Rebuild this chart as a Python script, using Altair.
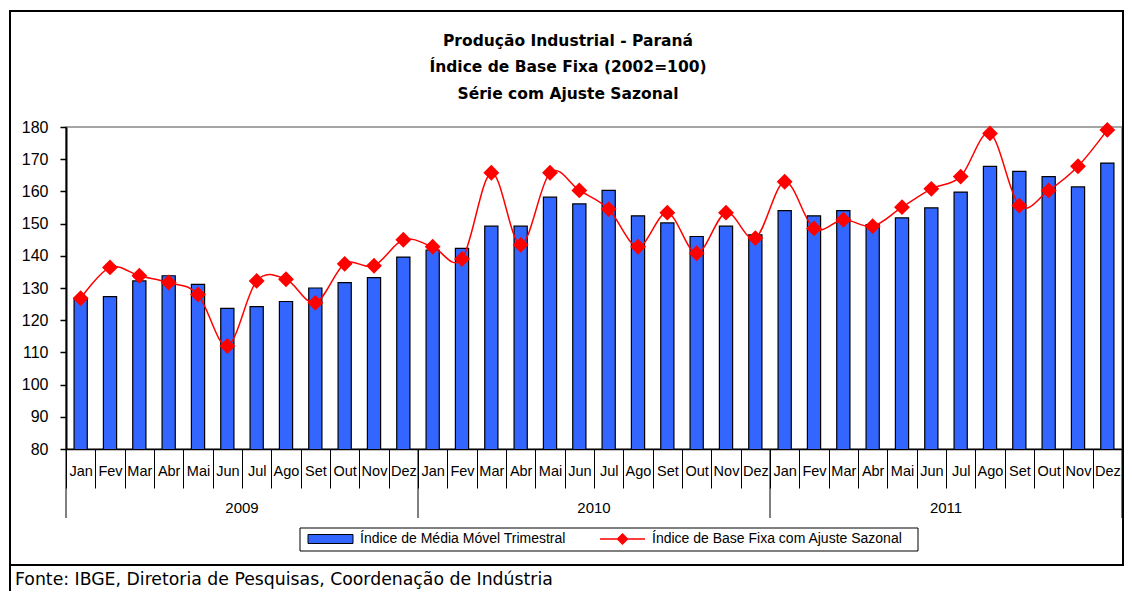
import altair as alt
import pandas as pd

months = ["Jan", "Fev", "Mar", "Abr", "Mai", "Jun", "Jul", "Ago", "Set", "Out", "Nov", "Dez"]
years = ["2009", "2010", "2011"]

# Índice de Média Móvel Trimestral (bars)
media_movel = [
    126.8, 127.3, 132.2, 133.8, 131.1, 123.7, 124.2, 125.8, 130.0, 131.7, 133.2, 139.6,
    141.8, 142.3, 149.2, 149.2, 158.2, 156.1, 160.3, 152.4, 150.2, 146.0, 149.2, 146.5,
    154.0, 152.4, 154.0, 149.7, 151.8, 154.9, 159.8, 167.8, 166.2, 164.6, 161.4, 168.8,
]
# Índice de Base Fixa com Ajuste Sazonal (line)
base_fixa = [
    126.8, 136.4, 133.8, 131.7, 128.0, 112.0, 132.2, 132.7, 125.4, 137.5, 136.9, 145.0,
    142.8, 139.0, 165.8, 143.4, 165.8, 160.3, 154.5, 142.8, 153.4, 140.8, 153.4, 145.5,
    163.0, 148.5, 151.2, 149.2, 155.1, 160.8, 164.6, 178.0, 155.6, 160.3, 167.8, 179.1,
]
y_ticks = [80, 90, 100, 110, 120, 130, 140, 150, 160, 170, 180]

title_lines = [
    "Produção Industrial - Paraná",
    "Índice de Base Fixa (2002=100)",
    "Série com Ajuste Sazonal",
]
fonte = "Fonte: IBGE, Diretoria de Pesquisas, Coordenação de Indústria"
bar_name = "Índice de Média Móvel Trimestral"
line_name = "Índice de Base Fixa com Ajuste Sazonal"

keys = [f"{m} {y}" for y in years for m in months]
df_bar = pd.DataFrame({"key": keys, "serie": bar_name, "valor": media_movel})
df_line = pd.DataFrame({"key": keys, "serie": line_name, "valor": base_fixa})
df_year_start = pd.DataFrame({"key": [f"Jan {y}" for y in years]})
df_year_end = pd.DataFrame({"key": [keys[-1]]})
df_year_lbl = pd.DataFrame({"key": [f"Jul {y}" for y in years], "ano": years})
one = alt.Data(values=[{"a": 1}])

W, H = 1056, 322
FONT = "Liberation Sans"

x_axis = alt.Axis(
    title=None,
    labelExpr="isString(datum.value) ? split(datum.value, ' ')[0] : ''",
    tickBand="extent", tickSize=39, labelPadding=-24, labelAngle=0,
    labelFont=FONT, labelFontSize=14.5, labelColor="black", domainColor="black",
    tickColor="black", labelOverlap=False, domainWidth=1.5, tickWidth=1,
)
x_scale = alt.Scale(domain=keys, paddingInner=0, paddingOuter=0)


def xenc(bp=None):
    kw = dict(sort=keys, scale=x_scale, axis=x_axis)
    if bp is not None:
        kw["bandPosition"] = bp
    return alt.X("key:N", **kw)


y_axis = alt.Axis(
    title=None, values=y_ticks, tickSize=6, labelPadding=12, labelFont=FONT,
    labelFontSize=16, labelColor="black", domainColor="black", tickColor="black",
    domainWidth=2, tickWidth=1.5, grid=False,
)
y_scale = alt.Scale(domain=[80, 180], nice=False, zero=False)

bar_path = "M-1,-0.9H8V0.9H-1Z"
line_path = "M-1,0H8M3.5,-1L4.5,0L3.5,1L2.5,0Z"
leg_common = dict(
    title=None, orient="none", direction="horizontal", padding=0,
    labelFont=FONT, labelFontSize=14, labelColor="black", labelLimit=0,
    symbolSize=100, labelOffset=40, symbolOpacity=1,
)
leg_bar = alt.Legend(
    legendX=240, legendY=405, symbolType=bar_path, symbolStrokeColor="black",
    symbolStrokeWidth=1, **leg_common,
)
leg_line = alt.Legend(
    legendX=532, legendY=405, symbolType=line_path, symbolFillColor="#FF0000",
    symbolStrokeWidth=1.5, **leg_common,
)

frame = alt.Chart(one).mark_rect(filled=False, stroke="black", strokeWidth=2).encode(
    x=alt.value(-56), x2=alt.value(1057), y=alt.value(-116), y2=alt.value(438)
)
footer_line = alt.Chart(one).mark_rule(color="black", strokeWidth=2).encode(
    x=alt.value(-56), y=alt.value(438), y2=alt.value(466)
)
legend_box = alt.Chart(one).mark_rect(fill="white", stroke="black", strokeWidth=1).encode(
    x=alt.value(234), x2=alt.value(852), y=alt.value(401), y2=alt.value(424)
)
title = alt.Chart(one).mark_text(
    font="DejaVu Sans", fontSize=15.5, fontWeight="bold", align="center",
    baseline="alphabetic", lineHeight=26.5, color="black",
).encode(x=alt.value(502), y=alt.value(-81.5), text=alt.value(title_lines))

bars = alt.Chart(df_bar).mark_bar(
    width=alt.RelativeBandSize(0.45), stroke="black", strokeWidth=1.2, clip=True
).encode(
    x=xenc(),
    y=alt.Y("valor:Q", scale=y_scale, axis=y_axis),
    fill=alt.Fill("serie:N", scale=alt.Scale(domain=[bar_name], range=["#3366FF"]), legend=leg_bar),
)

line = alt.Chart(df_line).mark_line(
    interpolate="cardinal", strokeWidth=1.5,
    point=alt.OverlayMarkDef(shape="diamond", size=170, filled=True, fill="#FF0000"),
).encode(
    x=xenc(),
    y=alt.Y("valor:Q", scale=y_scale, axis=y_axis),
    stroke=alt.Stroke("serie:N", scale=alt.Scale(domain=[line_name], range=["#FF0000"]), legend=leg_line),
)

year_rules = alt.Chart(df_year_start).mark_rule(color="black", strokeWidth=1).encode(
    x=xenc(0), y=alt.value(H), y2=alt.value(H + 69)
)
year_end = alt.Chart(df_year_end).mark_rule(color="black", strokeWidth=1).encode(
    x=xenc(1), y=alt.value(H), y2=alt.value(H + 69)
)
year_text = alt.Chart(df_year_lbl).mark_text(
    font=FONT, fontSize=15, baseline="middle", align="center", color="black"
).encode(x=xenc(0), y=alt.value(H + 59), text="ano:N")

footer = alt.Chart(one).mark_text(
    font="DejaVu Sans", fontSize=17.3, align="left", baseline="alphabetic", color="black"
).encode(x=alt.value(-51), y=alt.value(458), text=alt.value(fonte))

chart = alt.layer(
    frame, footer_line, legend_box, title, bars, line, year_rules, year_end, year_text, footer
).properties(
    width=W, height=H,
    padding={"left": 58, "top": 119, "right": 2, "bottom": 142},
    autosize=alt.AutoSizeParams(type="none"),
).configure_view(stroke="#888888", strokeWidth=1.5)

chart.save("out.html", embed_options={"renderer": "svg", "actions": False})
